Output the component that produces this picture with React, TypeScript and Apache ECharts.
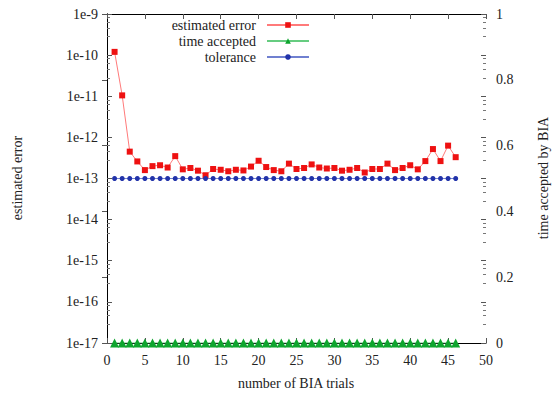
import React, { useEffect, useRef } from "react";
import * as echarts from "echarts";

const trials = Array.from({ length: 46 }, (_, i) => i + 1);
const estimatedError = [
  1.2e-10, 1.05e-11, 4.5e-13, 2.6e-13, 1.6e-13, 2.0e-13, 2.1e-13, 1.85e-13, 3.5e-13, 1.67e-13,
  1.8e-13, 1.55e-13, 1.2e-13, 1.7e-13, 1.63e-13, 1.5e-13, 1.63e-13, 1.57e-13, 1.95e-13, 2.7e-13,
  1.9e-13, 1.6e-13, 1.5e-13, 2.3e-13, 1.7e-13, 1.8e-13, 2.2e-13, 1.85e-13, 1.75e-13, 1.8e-13,
  1.55e-13, 1.63e-13, 1.8e-13, 1.4e-13, 1.7e-13, 1.7e-13, 2.3e-13, 1.6e-13, 1.8e-13, 2.1e-13,
  1.67e-13, 2.65e-13, 5.2e-13, 2.65e-13, 6.3e-13, 3.3e-13,
];
const tolerance = trials.map(() => 1e-13);
const timeAccepted = trials.map(() => 0);
const xTicks = [0, 5, 10, 15, 20, 25, 30, 35, 40, 45, 50];
const rightTicks = [0, 0.2, 0.4, 0.6, 0.8, 1];

const FONT = "Liberation Serif";

export default function App() {
  const ref = useRef<HTMLDivElement>(null);
  useEffect(() => {
    if (!ref.current) return;
    const chart = echarts.init(ref.current, null, { renderer: "svg" });
    const axisLine = { show: true, lineStyle: { color: "#000", width: 1 } };
    const tickStyle = { show: true, inside: true, length: 5, lineStyle: { color: "#555" } };
    const label = { color: "#222", fontFamily: FONT, fontSize: 14, fontWeight: "normal" };
    const legendBase = {
      right: 246,
      align: "right",
      padding: 0,
      itemWidth: 42,
      itemHeight: 7,
      itemGap: 0,
      textStyle: { fontFamily: FONT, fontSize: 14, color: "#222", padding: [0, 6, 0, 0] },
    };
    chart.setOption({
      animation: false,
      backgroundColor: "#fff",
      textStyle: { fontFamily: FONT, fontSize: 14 },
      grid: { left: 107, right: 70, top: 14, bottom: 55, containLabel: false },
      legend: [
        { ...legendBase, data: ["estimated error"], top: 18 },
        { ...legendBase, data: ["time accepted"], top: 34 },
        { ...legendBase, data: ["tolerance"], top: 50 },
      ],
      xAxis: [
        {
          type: "value",
          min: 0,
          max: 50,
          interval: 5,
          position: "bottom",
          axisLine,
          axisTick: tickStyle,
          splitLine: { show: false },
          axisLabel: { ...label, margin: 10, formatter: (v: number) => (xTicks.includes(v) ? String(v) : "") },
        },
        {
          type: "value",
          min: 0,
          max: 50,
          interval: 5,
          position: "top",
          axisLine,
          axisTick: tickStyle,
          splitLine: { show: false },
          axisLabel: { show: false },
        },
      ],
      yAxis: [
        {
          type: "log",
          logBase: 10,
          min: 1e-17,
          max: 1e-9,
          interval: 1,
          position: "left",
          axisLine,
          axisTick: tickStyle,
          minorTick: { show: true, splitNumber: 5, length: 3, lineStyle: { color: "#777" } },
          splitLine: { show: false },
          axisLabel: {
            ...label,
            margin: 9,
            formatter: (v: number) => "1e" + Math.round(Math.log10(v)),
          },
        },
        {
          type: "value",
          min: 0,
          max: 1,
          interval: 0.2,
          position: "right",
          axisLine,
          axisTick: tickStyle,
          splitLine: { show: false },
          axisLabel: {
            ...label,
            margin: 10,
            formatter: (v: number) => {
              const r = Math.round(v * 10) / 10;
              return rightTicks.includes(r) ? String(r) : "";
            },
          },
        },
        {
          type: "log",
          logBase: 10,
          min: 1e-17,
          max: 1e-9,
          interval: 1,
          position: "right",
          axisLine: { show: false },
          axisTick: tickStyle,
          minorTick: { show: true, splitNumber: 5, length: 3, lineStyle: { color: "#777" } },
          splitLine: { show: false },
          axisLabel: { show: false },
        },
      ],
      series: [
        {
          name: "estimated error",
          type: "line",
          xAxisIndex: 0,
          yAxisIndex: 0,
          data: trials.map((t, i) => [t, estimatedError[i]]),
          symbol: "rect",
          symbolSize: 6,
          lineStyle: { color: "#ff7a7a", width: 1 },
          itemStyle: { color: "#ee1111" },
          color: "#ee1111",
        },
        {
          name: "time accepted",
          type: "line",
          xAxisIndex: 0,
          yAxisIndex: 1,
          data: trials.map((t, i) => [t, timeAccepted[i]]),
          symbol: "triangle",
          symbolSize: 9,
          lineStyle: { color: "#66cc80", width: 1 },
          itemStyle: { color: "#0ea52e" },
          color: "#0ea52e",
        },
        {
          name: "tolerance",
          type: "line",
          xAxisIndex: 0,
          yAxisIndex: 0,
          data: trials.map((t, i) => [t, tolerance[i]]),
          symbol: "circle",
          symbolSize: 5,
          lineStyle: { color: "#7080d0", width: 1 },
          itemStyle: { color: "#2233aa" },
          color: "#2233aa",
        },
      ],
      graphic: [
        {
          type: "text",
          x: 17,
          y: 178,
          rotation: Math.PI / 2,
          style: {
            text: "estimated error",
            fontFamily: FONT,
            fontSize: 14,
            fill: "#222",
            align: "center",
            verticalAlign: "middle",
          },
        },
        {
          type: "text",
          x: 543,
          y: 178,
          rotation: Math.PI / 2,
          style: {
            text: "time accepted by BIA",
            fontFamily: FONT,
            fontSize: 14,
            fill: "#222",
            align: "center",
            verticalAlign: "middle",
          },
        },
        {
          type: "text",
          x: 296,
          y: 383,
          style: {
            text: "number of BIA trials",
            fontFamily: FONT,
            fontSize: 14,
            fill: "#222",
            align: "center",
            verticalAlign: "middle",
          },
        },
      ],
    });
    return () => chart.dispose();
  }, []);
  return <div ref={ref} style={{ width: 556, height: 398, position: "absolute", left: 0, top: 0 }} />;
}
